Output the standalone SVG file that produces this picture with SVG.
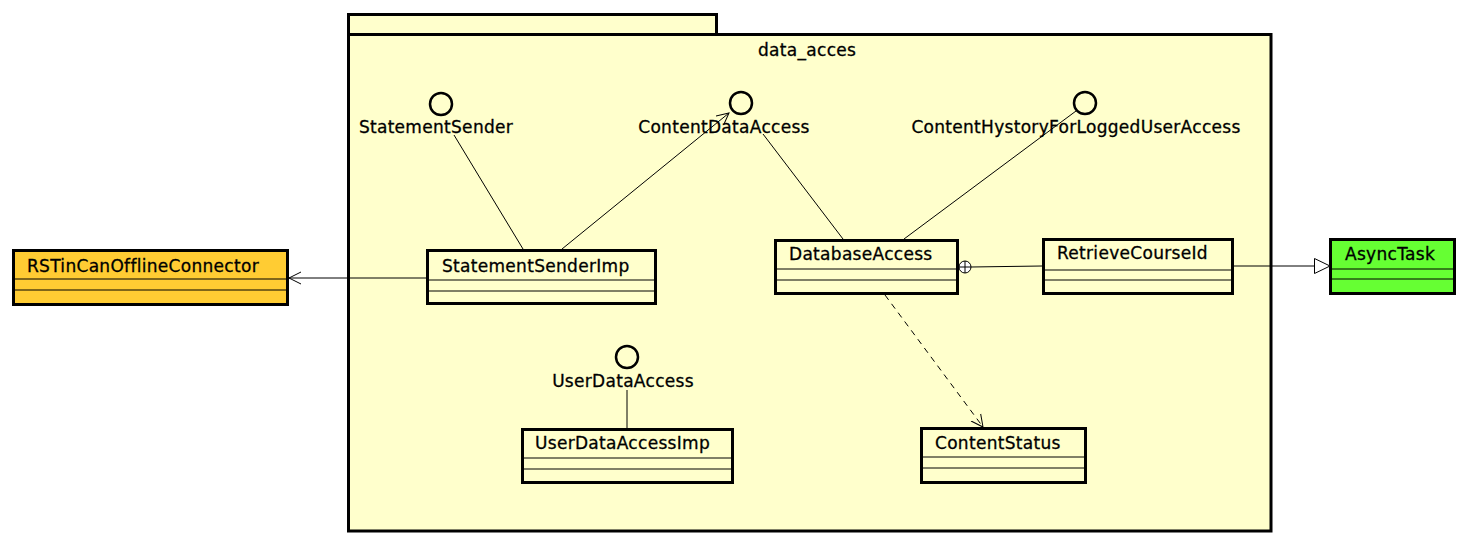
<svg xmlns="http://www.w3.org/2000/svg" width="1469" height="546" viewBox="0 0 1469 546">
<style>
text{font-family:"DejaVu Sans",sans-serif;font-size:17px;letter-spacing:0.3px;fill:#000;stroke:#000;stroke-width:0.3}
.pkg{fill:#ffffcc;stroke:#000;stroke-width:3}
.cls{fill:#ffffcc;stroke:#000;stroke-width:3}
.sep{stroke:#000;stroke-width:1}
.itf{fill:none;stroke:#000;stroke-width:2.5}
.mid{text-anchor:middle}
.ln{stroke:#000;stroke-width:1;fill:none}
.dash{stroke-dasharray:6,5}
</style>
<defs>
<marker id="open" markerWidth="14" markerHeight="14" refX="12" refY="6" orient="auto" markerUnits="userSpaceOnUse" viewBox="0 0 14 12">
<path d="M0,0 L12,6 L0,12" fill="none" stroke="#000" stroke-width="1"/>
</marker>
<marker id="tri" markerWidth="18" markerHeight="18" refX="16" refY="8" orient="auto" markerUnits="userSpaceOnUse" viewBox="0 0 18 16">
<path d="M0.5,0.5 L16,8 L0.5,15.5 Z" fill="#fff" stroke="#000" stroke-width="1"/>
</marker>
</defs>
<rect width="1469" height="546" fill="#fff"/>
<g id="pkg_data_acces">
<rect class="pkg" x="348.5" y="14.5" width="368" height="20"/>
<rect class="pkg" x="348.5" y="34.5" width="922.5" height="496.5"/>
<text x="758" y="56">data_acces</text>
</g>
<g id="StatementSender">
<circle class="itf" cx="441" cy="104" r="11"/>
<text class="mid" x="436" y="133">StatementSender</text>
</g>
<g id="ContentDataAccess">
<circle class="itf" cx="741" cy="103" r="11"/>
<text class="mid" x="724" y="133">ContentDataAccess</text>
</g>
<g id="ContentHystoryForLoggedUserAccess">
<circle class="itf" cx="1085" cy="103" r="11"/>
<text class="mid" x="1076" y="133">ContentHystoryForLoggedUserAccess</text>
</g>
<g id="UserDataAccess">
<circle class="itf" cx="627" cy="357" r="11"/>
<text class="mid" x="623" y="387">UserDataAccess</text>
</g>
<g id="RSTinCanOfflineConnector">
<rect class="cls" style="fill:#ffcc33" x="13.5" y="250.5" width="274" height="54"/>
<line class="sep" x1="15" y1="279" x2="286" y2="279"/>
<line class="sep" x1="15" y1="290" x2="286" y2="290"/>
<text x="27" y="272">RSTinCanOfflineConnector</text>
</g>
<g id="StatementSenderImp">
<rect class="cls" x="427.5" y="250.5" width="228" height="53"/>
<line class="sep" x1="429" y1="280" x2="654" y2="280"/>
<line class="sep" x1="429" y1="291" x2="654" y2="291"/>
<text x="442" y="272">StatementSenderImp</text>
</g>
<g id="DatabaseAccess">
<rect class="cls" x="775.5" y="240.5" width="182" height="53"/>
<line class="sep" x1="777" y1="269" x2="956" y2="269"/>
<line class="sep" x1="777" y1="280" x2="956" y2="280"/>
<text x="789" y="260">DatabaseAccess</text>
</g>
<g id="RetrieveCourseId">
<rect class="cls" x="1043.5" y="239.5" width="189" height="54"/>
<line class="sep" x1="1045" y1="270" x2="1231" y2="270"/>
<line class="sep" x1="1045" y1="280" x2="1231" y2="280"/>
<text x="1057" y="259">RetrieveCourseId</text>
</g>
<g id="AsyncTask">
<rect class="cls" style="fill:#66ff33" x="1330.5" y="239.5" width="124" height="54"/>
<line class="sep" x1="1332" y1="269" x2="1453" y2="269"/>
<line class="sep" x1="1332" y1="279" x2="1453" y2="279"/>
<text x="1345" y="260">AsyncTask</text>
</g>
<g id="UserDataAccessImp">
<rect class="cls" x="522.5" y="429.5" width="210" height="53"/>
<line class="sep" x1="524" y1="458" x2="731" y2="458"/>
<line class="sep" x1="524" y1="469" x2="731" y2="469"/>
<text x="535" y="449">UserDataAccessImp</text>
</g>
<g id="ContentStatus">
<rect class="cls" x="921.5" y="428.5" width="164" height="54"/>
<line class="sep" x1="923" y1="457" x2="1084" y2="457"/>
<line class="sep" x1="923" y1="468" x2="1084" y2="468"/>
<text x="935" y="449">ContentStatus</text>
</g>
<g id="connectors">
<line class="ln" x1="426" y1="278" x2="289" y2="278" marker-end="url(#open)"/>
<line class="ln" x1="454" y1="135" x2="523" y2="249"/>
<line class="ln" x1="562" y1="249" x2="729" y2="113" marker-end="url(#open)"/>
<line class="ln" x1="763" y1="134" x2="843" y2="239"/>
<line class="ln" x1="1076" y1="111" x2="904" y2="239"/>
<circle cx="965" cy="267" r="6" fill="#fff" stroke="#000" stroke-width="1"/>
<line class="ln" x1="959" y1="267" x2="971" y2="267"/>
<line class="ln" x1="965" y1="261" x2="965" y2="273"/>
<line class="ln" x1="971" y1="267" x2="1042" y2="266"/>
<line class="ln" x1="1234" y1="266" x2="1330" y2="266" marker-end="url(#tri)"/>
<line class="ln dash" x1="885" y1="295" x2="983" y2="427" marker-end="url(#open)"/>
<line class="ln" x1="627" y1="390" x2="627" y2="428"/>
</g>
</svg>
